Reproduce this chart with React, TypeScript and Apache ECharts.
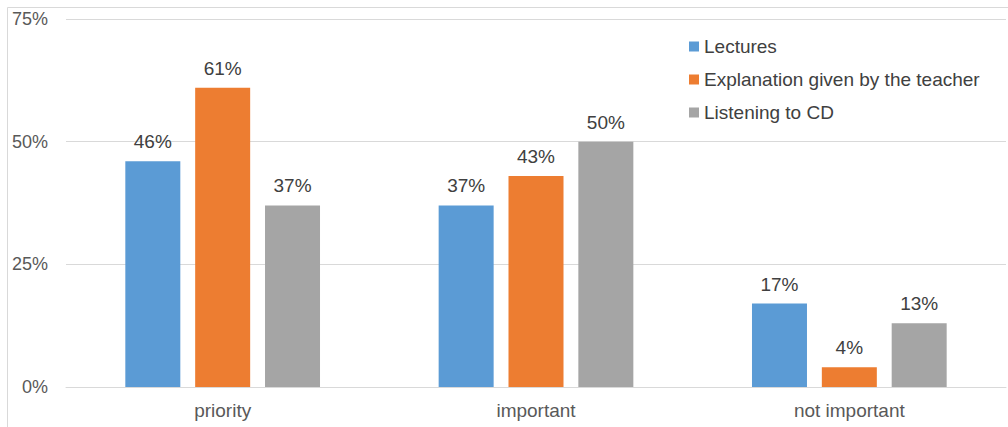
import React, { useEffect, useRef } from "react";
import * as echarts from "echarts";

const categories = ["priority", "important", "not important"];
const seriesNames = ["Lectures", "Explanation given by the teacher", "Listening to CD"];
const lectures = [46, 37, 17];
const explanation = [61, 43, 4];
const listening = [37, 50, 13];
const colors = ["#5B9BD5", "#ED7D31", "#A5A5A5"];

export default function App() {
  const ref = useRef<HTMLDivElement>(null);
  useEffect(() => {
    const chart = echarts.init(ref.current!, null, { renderer: "svg" });
    const values = [lectures, explanation, listening];
    chart.setOption({
      animation: false,
      textStyle: { fontFamily: "Liberation Sans, Arial, sans-serif" },
      graphic: [
        {
          type: "polyline",
          shape: { points: [[7.5, 440], [7.5, 7.5], [1020, 7.5]] },
          style: { stroke: "#d9d9d9", lineWidth: 1, fill: null },
          silent: true,
        },
      ],
      legend: {
        orient: "vertical",
        left: 684,
        top: 32,
        itemWidth: 10,
        itemHeight: 10,
        itemGap: 14,
        icon: "rect",
        textStyle: { fontSize: 19, color: "#404040", padding: [0, 0, 0, 0] },
        data: seriesNames,
      },
      grid: { left: 66, right: 2, top: 19, bottom: 40, containLabel: false },
      xAxis: {
        type: "category",
        data: categories,
        axisLine: { lineStyle: { color: "#d9d9d9" } },
        axisTick: { show: false },
        axisLabel: { fontSize: 19, color: "#595959", margin: 14 },
      },
      yAxis: {
        type: "value",
        min: 0,
        max: 75,
        interval: 25,
        axisLine: { show: false },
        axisTick: { show: false },
        splitLine: { lineStyle: { color: "#d9d9d9" } },
        axisLabel: { fontSize: 18, color: "#595959", margin: 18, formatter: "{value}%" },
      },
      series: seriesNames.map((name, i) => ({
        name,
        type: "bar",
        data: values[i],
        barWidth: 55,
        barGap: "27%",
        itemStyle: { color: colors[i] },
        label: {
          show: true,
          position: "top",
          distance: 10,
          fontSize: 19,
          color: "#404040",
          formatter: "{c}%",
        },
      })),
    });
    return () => chart.dispose();
  }, []);
  return <div ref={ref} style={{ width: 1008, height: 427, position: "absolute", left: 0, top: 0 }} />;
}
